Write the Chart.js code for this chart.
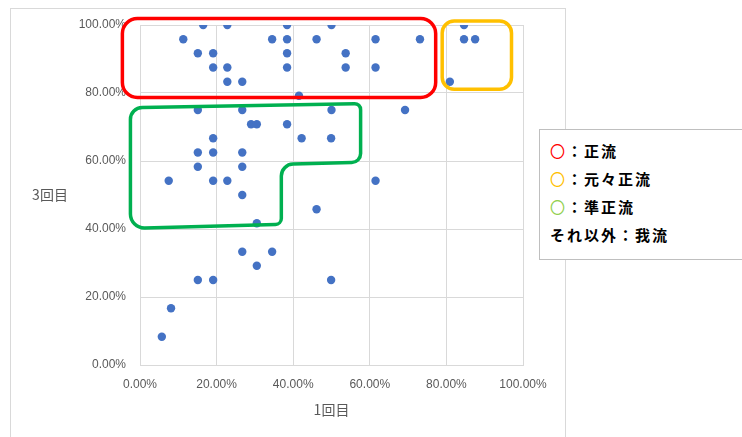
<!DOCTYPE html>
<html lang="ja">
<head>
<meta charset="utf-8">
<script src="https://cdn.jsdelivr.net/npm/chart.js@4/dist/chart.umd.min.js"></script>
<style>
html, body { margin: 0; padding: 0; background: #fff; }
body { width: 742px; height: 437px; overflow: hidden; position: relative; }
#frame { position: absolute; left: 10px; top: 8px; width: 554px; height: 440px; border: 1px solid #D9D9D9; }
#c { position: absolute; left: 0; top: 0; }
#key { position: absolute; left: 539px; top: 129px; width: 220px; height: 129px; border: 1px solid #BFBFBF; background: #fff;
       font-family: "Noto Sans CJK JP", sans-serif; font-weight: 700; font-size: 15px; color: #000; }
#key div { position: absolute; left: 10px; height: 20px; line-height: 20px; letter-spacing: 2px; white-space: nowrap; }
</style>
</head>
<body>
<div id="frame"></div>
<canvas id="c" width="742" height="437"></canvas>
<div id="key">
  <div style="top:11px"><span style="color:#FF0000;font-weight:400">〇</span>：正流</div>
  <div style="top:39px"><span style="color:#FFC000;font-weight:400">〇</span>：元々正流</div>
  <div style="top:67px"><span style="color:#92D050;font-weight:400">〇</span>：準正流</div>
  <div style="top:95px">それ以外：我流</div>
</div>
<script>
// 1回目 / 3回目 の正答率 (%)
const round1 = [
  16.5, 22.8, 38.4, 50.0, 84.6,
  11.3, 34.5, 38.4, 46.1, 61.5, 73.1, 84.6, 87.5,
  15.1, 19.1, 38.4, 53.7,
  19.1, 22.8, 38.4, 53.7, 61.5,
  22.8, 26.7, 80.9,
  41.5,
  15.1, 26.7, 50.0, 69.2,
  29.0, 30.5, 38.4,
  19.1, 42.2, 49.9,
  15.1, 19.1, 26.7,
  15.1, 26.7,
  7.5, 19.1, 22.8, 61.5,
  26.7,
  46.1,
  30.5,
  26.7, 34.5,
  30.5,
  15.1, 19.1, 49.9,
  8.1,
  5.7
];
const round3 = [
  100, 100, 100, 100, 100,
  95.83, 95.83, 95.83, 95.83, 95.83, 95.83, 95.83, 95.83,
  91.67, 91.67, 91.67, 91.67,
  87.5, 87.5, 87.5, 87.5, 87.5,
  83.33, 83.33, 83.33,
  79.17,
  75, 75, 75, 75,
  70.83, 70.83, 70.83,
  66.67, 66.67, 66.67,
  62.5, 62.5, 62.5,
  58.33, 58.33,
  54.17, 54.17, 54.17, 54.17,
  50,
  45.83,
  41.67,
  33.33, 33.33,
  29.17,
  25, 25, 25,
  16.67,
  8.33
];
const axisTicks = [0, 20, 40, 60, 80, 100];
const xTitle = '1回目';
const yTitle = '3回目';

// group outlines, vertices in axis units (x %, y %)
const outlineSeiryu = [[-4.6, 101.9], [77.2, 101.9], [77.2, 78.7], [-4.6, 78.7]];
const outlineMotomoto = [[78.9, 101.2], [97.0, 101.2], [97.0, 81.1], [78.9, 81.1]];
const outlineJunseiryu = [[-2.5, 75.7], [57.6, 76.9], [57.6, 59.6], [36.9, 59.0], [36.9, 41.4], [-2.5, 40.2]];

const outlines = [
  { pts: outlineSeiryu, color: '#FF0000', radii: [15, 15, 15, 15] },
  { pts: outlineMotomoto, color: '#FFC000', radii: [12, 12, 12, 12] },
  { pts: outlineJunseiryu, color: '#00B050', radii: [12, 6, 9, 12, 6, 14] }
];

const outlinePlugin = {
  id: 'outlines',
  afterDatasetsDraw(chart) {
    const { ctx, scales: { x, y } } = chart;
    ctx.save();
    ctx.lineWidth = 3.5;
    ctx.lineJoin = 'round';
    outlines.forEach(o => {
      const p = o.pts.map(([vx, vy]) => [x.getPixelForValue(vx), y.getPixelForValue(vy)]);
      const n = p.length;
      const last = p[n - 1], first = p[0];
      ctx.beginPath();
      ctx.moveTo((last[0] + first[0]) / 2, (last[1] + first[1]) / 2);
      for (let i = 0; i < n; i++) {
        const cur = p[i], nxt = p[(i + 1) % n];
        ctx.arcTo(cur[0], cur[1], nxt[0], nxt[1], o.radii[i]);
      }
      ctx.closePath();
      ctx.strokeStyle = o.color;
      ctx.stroke();
    });
    ctx.restore();
  }
};

const titlePlugin = {
  id: 'axisTitles',
  afterDraw(chart) {
    const { ctx, chartArea: a } = chart;
    ctx.save();
    ctx.fillStyle = '#595959';
    ctx.font = '14px "Noto Sans CJK JP", sans-serif';
    ctx.textAlign = 'center';
    ctx.textBaseline = 'middle';
    ctx.fillText(xTitle, (a.left + a.right) / 2, a.bottom + 45);
    ctx.fillText(yTitle, a.left - 90, (a.top + a.bottom) / 2);
    ctx.restore();
  }
};

const fmt = v => v.toFixed(2) + '%';
const gridColor = '#D9D9D9';
const tickFont = { family: '"Liberation Sans", Arial, sans-serif', size: 12 };

new Chart(document.getElementById('c'), {
  type: 'scatter',
  data: {
    datasets: [{
      data: round1.map((v, i) => ({ x: v, y: round3[i] })),
      backgroundColor: '#4472C4',
      borderColor: '#4472C4',
      borderWidth: 0,
      pointRadius: 4.2
    }]
  },
  options: {
    responsive: false,
    animation: false,
    devicePixelRatio: 1,
    layout: { padding: { left: 0, top: 25, right: 219, bottom: 42 } },
    plugins: { legend: { display: false }, tooltip: { enabled: false } },
    scales: {
      x: {
        type: 'linear', min: 0, max: 100,
        afterBuildTicks: s => { s.ticks = axisTicks.map(v => ({ value: v })); },
        afterFit: s => { s.height = 30; },
        grid: { color: gridColor, drawTicks: false },
        border: { color: gridColor },
        ticks: { callback: fmt, color: '#595959', font: tickFont, padding: 12, maxRotation: 0 }
      },
      y: {
        type: 'linear', min: 0, max: 100,
        afterBuildTicks: s => { s.ticks = axisTicks.map(v => ({ value: v })); },
        afterFit: s => { s.width = 140; },
        grid: { color: gridColor, drawTicks: false },
        border: { color: gridColor },
        ticks: { callback: fmt, color: '#595959', font: tickFont, padding: 14 }
      }
    }
  },
  plugins: [outlinePlugin, titlePlugin]
});
</script>
</body>
</html>
